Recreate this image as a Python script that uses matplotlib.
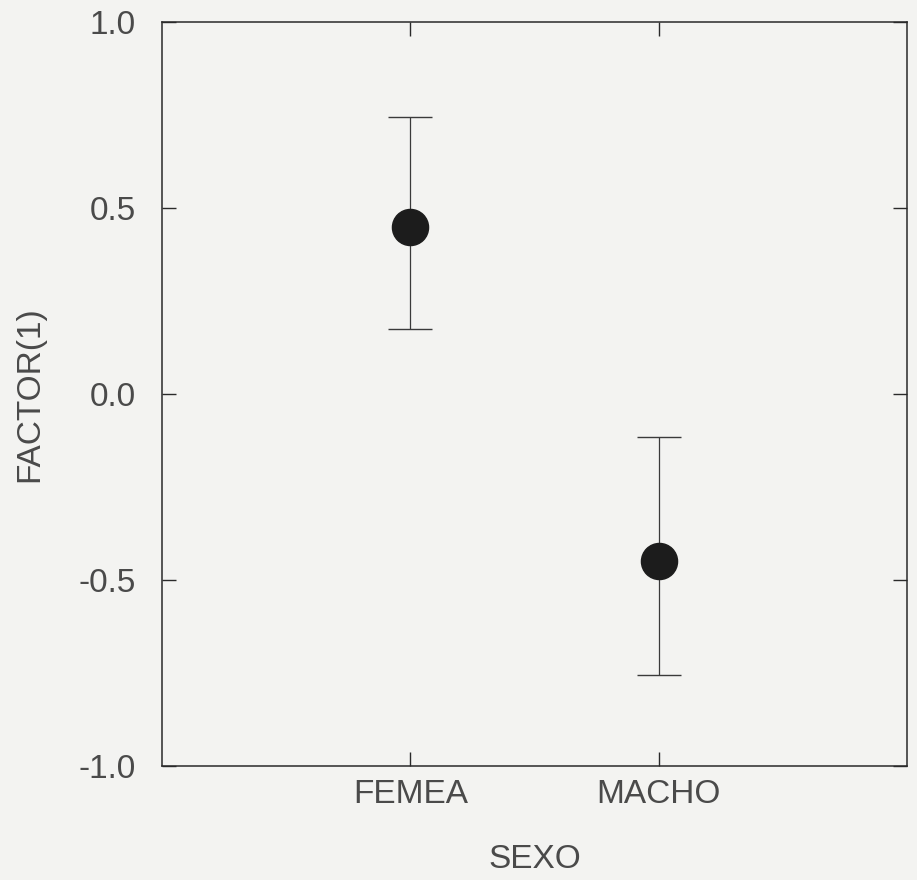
import matplotlib
matplotlib.use("Agg")
import matplotlib.pyplot as plt
import numpy as np

categories = ["FEMEA", "MACHO"]
means = [0.45, -0.45]
upper = [0.745, -0.115]
lower = [0.175, -0.755]
yticks = [1.0, 0.5, 0.0, -0.5, -1.0]
ytick_labels = ["1.0", "0.5", "0.0", "-0.5", "-1.0"]

plt.rcParams['font.family'] = ['Liberation Sans', 'DejaVu Sans']
bg = '#f3f3f1'
ink = '#4a4a4a'

fig = plt.figure(figsize=(9.17, 8.80), dpi=100, facecolor=bg)
ax = fig.add_axes([162/917, 1-766/880, (907-162)/917, (766-22)/880])
ax.set_facecolor(bg)

x = np.arange(1, len(categories) + 1)
m = np.array(means)
yerr = np.vstack([m - np.array(lower), np.array(upper) - m])
ax.errorbar(x, m, yerr=yerr, fmt='none', ecolor='#3a3a3a', elinewidth=0.9,
            capsize=15.5, capthick=1.0)
ax.plot(x, m, 'o', color='#1c1c1c', markersize=26, zorder=3)

ax.set_xlim(0, 3)
ax.set_ylim(-1.0, 1.0)
ax.set_xticks(x)
ax.set_xticklabels(categories)
ax.set_yticks(yticks)
ax.set_yticklabels(ytick_labels)

for s in ax.spines.values():
    s.set_linewidth(1.1)
    s.set_color('#2a2a2a')

ax.tick_params(axis='both', direction='in', length=10, width=1.0, colors='#2a2a2a',
               labelcolor=ink, labelsize=24, top=True, right=True)
ax.tick_params(axis='y', pad=19)
ax.tick_params(axis='x', pad=9)

ax.set_xlabel("SEXO", fontsize=24, color=ink, labelpad=25)
ax.set_ylabel("FACTOR(1)", fontsize=24, color=ink, labelpad=24)

fig.savefig("out.png", dpi=100, facecolor=bg)
